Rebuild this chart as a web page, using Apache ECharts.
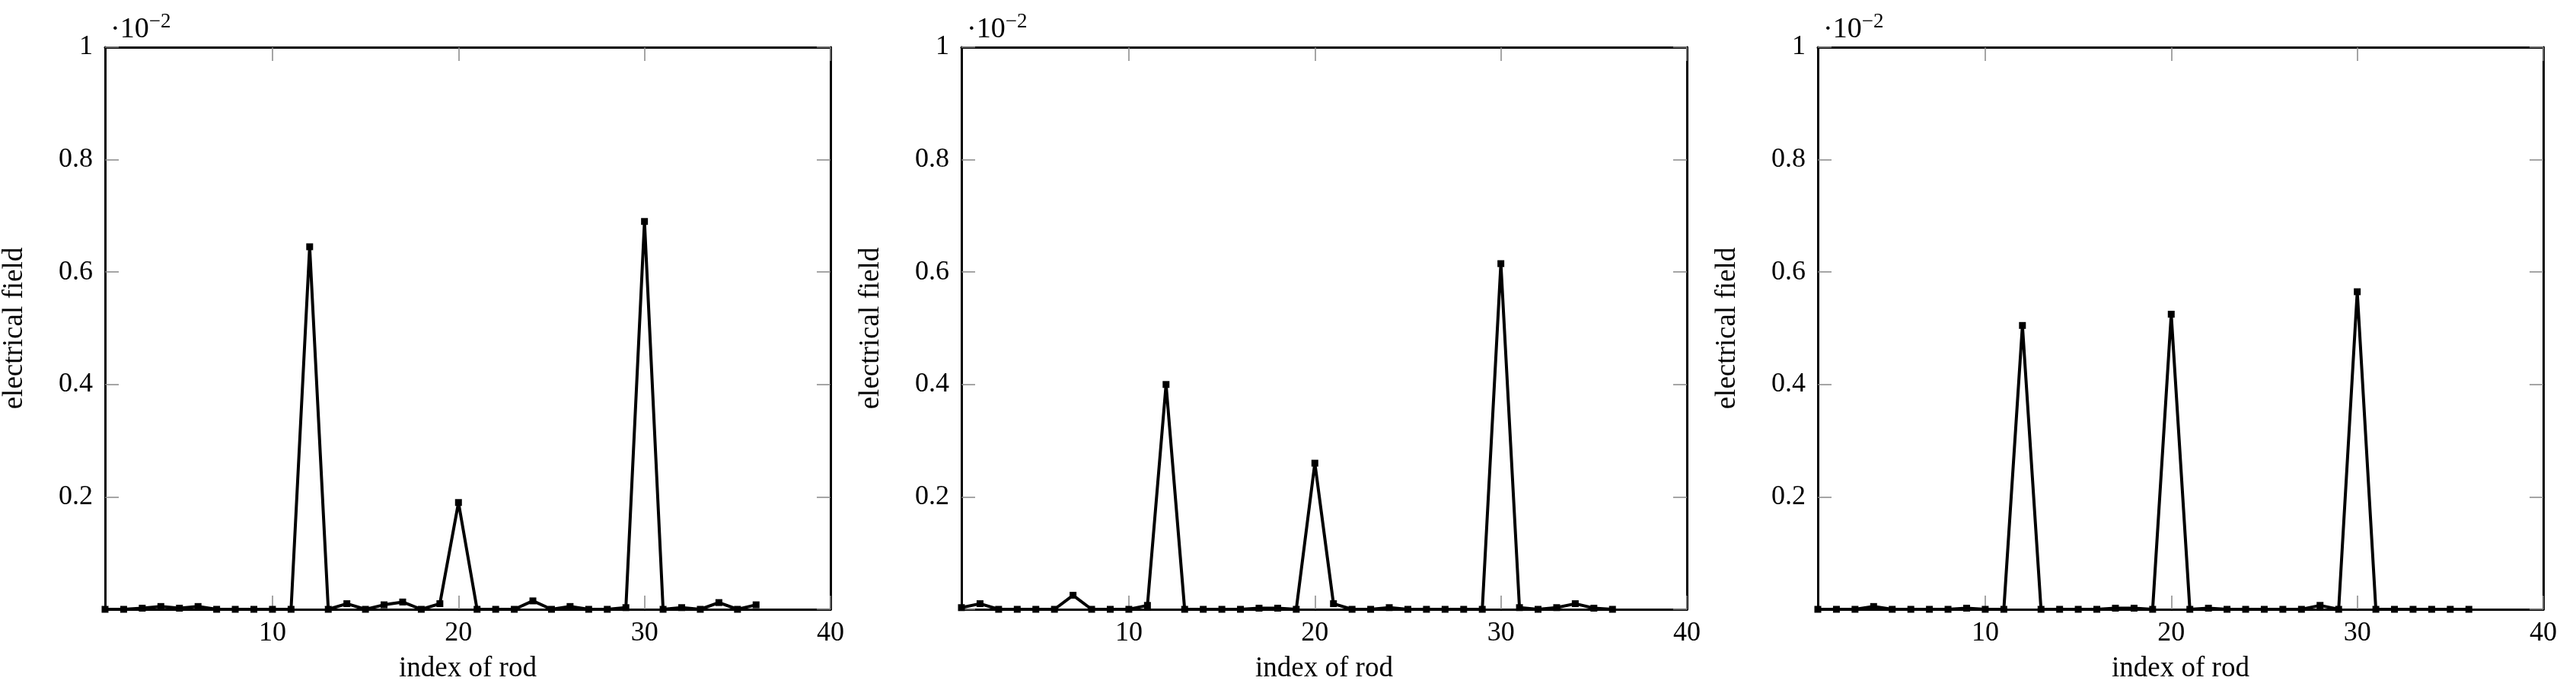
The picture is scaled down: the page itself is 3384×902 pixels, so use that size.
<!DOCTYPE html>
<html>
<head>
<meta charset="utf-8">
<script src="https://cdn.jsdelivr.net/npm/echarts@6/dist/echarts.min.js"></script>
<style>html,body{margin:0;padding:0;background:#fff}#main{width:3384px;height:902px}</style>
</head>
<body>
<div id="main"></div>
<script>
var rods = [];
for (var i = 1; i <= 36; i++) rods.push(i);
// electrical field, units of 1e-2
var field1 = [0, 0, 0.002, 0.005, 0.002, 0.005, 0, 0, 0, 0, 0, 0.645, 0, 0.01, 0, 0.008, 0.013, 0, 0.01, 0.19,
  0, 0, 0, 0.015, 0, 0.005, 0, 0, 0.003, 0.69, 0, 0.003, 0, 0.012, 0, 0.008];
var field2 = [0.003, 0.01, 0, 0, 0, 0, 0.025, 0, 0, 0, 0.007, 0.40, 0, 0, 0, 0, 0.002, 0.002, 0, 0.26,
  0.01, 0, 0, 0.003, 0, 0, 0, 0, 0, 0.615, 0.003, 0, 0.003, 0.01, 0.002, 0];
var field3 = [0, 0, 0, 0.005, 0, 0, 0, 0, 0.002, 0, 0, 0.505, 0, 0, 0, 0, 0.002, 0.002, 0, 0.525,
  0, 0.002, 0, 0, 0, 0, 0, 0.007, 0, 0.565, 0, 0, 0, 0, 0, 0];
var xTicks = [10, 20, 30, 40];
var yTicks = [0, 0.2, 0.4, 0.6, 0.8, 1];
var panels = [field1, field2, field3];
var lefts = [138, 1263, 2388];
var plotW = 953;

var chart = echarts.init(document.getElementById('main'));
var font = '"Liberation Serif", "DejaVu Serif", serif';
var grids = [], xAxes = [], yAxes = [], series = [], titles = [];
panels.forEach(function (vals, k) {
  grids.push({left: lefts[k], width: plotW, top: 62, height: 738});
  var tick = {show: true, inside: true, length: 18, lineStyle: {color: '#888', width: 1.5}};
  var line = {show: true, onZero: false, lineStyle: {color: '#000', width: 3}};
  xAxes.push({
    type: 'value', gridIndex: k, min: 1, max: 40, position: 'bottom',
    axisLine: line, splitLine: {show: false},
    axisTick: Object.assign({customValues: xTicks}, tick),
    axisLabel: {customValues: xTicks, color: '#000', fontSize: 36, fontFamily: font, margin: 14},
    name: 'index of rod', nameLocation: 'middle', nameGap: 60,
    nameTextStyle: {color: '#000', fontSize: 37, fontFamily: font}
  });
  xAxes.push({
    type: 'value', gridIndex: k, min: 1, max: 40, position: 'top',
    axisLine: line, splitLine: {show: false},
    axisTick: Object.assign({customValues: xTicks}, tick), axisLabel: {show: false}
  });
  yAxes.push({
    type: 'value', gridIndex: k, min: 0, max: 1, position: 'left',
    axisLine: line, splitLine: {show: false},
    axisTick: Object.assign({customValues: yTicks}, tick),
    axisLabel: {customValues: yTicks.slice(1), color: '#000', fontSize: 36, fontFamily: font, margin: 16},
    name: 'electrical field', nameLocation: 'middle', nameGap: 100,
    nameTextStyle: {color: '#000', fontSize: 37, fontFamily: font}
  });
  yAxes.push({
    type: 'value', gridIndex: k, min: 0, max: 1, position: 'right',
    axisLine: line, splitLine: {show: false},
    axisTick: Object.assign({customValues: yTicks}, tick), axisLabel: {show: false}
  });
  series.push({
    type: 'line', xAxisIndex: 2 * k, yAxisIndex: 2 * k,
    data: rods.map(function (r, i) { return [r, vals[i]]; }),
    symbol: 'rect', symbolSize: 9, showSymbol: true,
    lineStyle: {color: '#000', width: 4}, itemStyle: {color: '#000'},
    animation: false
  });
  titles.push({
    text: '{a|·10}{b|−2}', left: lefts[k] + 2, top: 10,
    textStyle: {fontWeight: 'normal', rich: {
      a: {fontSize: 38, fontFamily: font, color: '#000', fontWeight: 'normal', verticalAlign: 'bottom'},
      b: {fontSize: 27, fontFamily: font, color: '#000', fontWeight: 'normal', verticalAlign: 'top', padding: [0, 0, 16, 0]}
    }}
  });
});
chart.setOption({
  backgroundColor: '#fff', animation: false,
  title: titles, grid: grids, xAxis: xAxes, yAxis: yAxes, series: series
});
</script>
</body>
</html>
